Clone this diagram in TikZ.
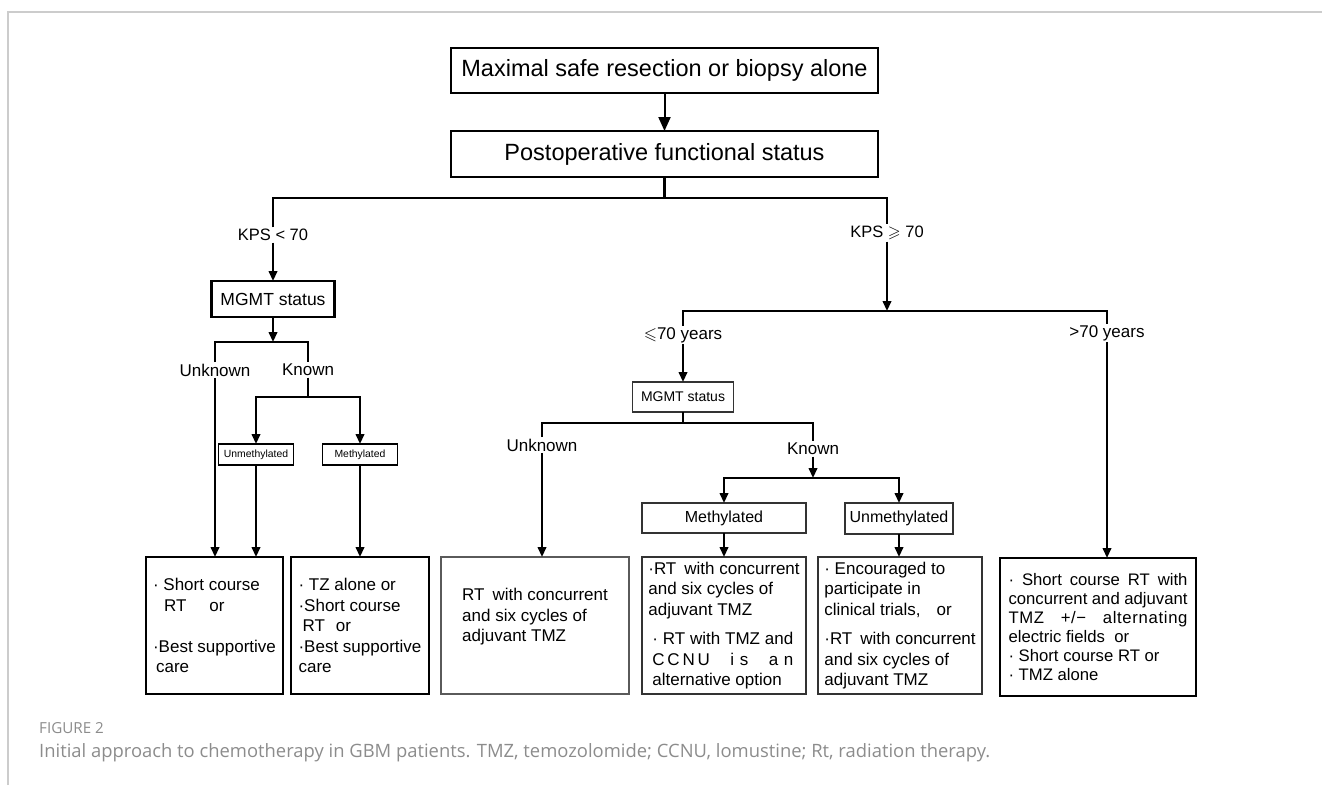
\documentclass[tikz,border=0pt]{standalone}
\usepackage{amssymb}
\usepackage{fontspec}
\setmainfont{Liberation Sans}
\newfontfamily\capfont{Open Sans}
\usetikzlibrary{arrows.meta}
\definecolor{frm}{RGB}{204,204,204}
\definecolor{capc}{RGB}{140,140,140}
\definecolor{dk}{RGB}{51,51,51}
\definecolor{md}{RGB}{90,90,90}
\newcommand{\fsz}[2]{\fontsize{#1}{#2}\selectfont}
\begin{document}
\begin{tikzpicture}[x=1pt,y=-1pt,
  box/.style={draw,inner sep=0,outer sep=0,align=left},
  lbl/.style={inner sep=1.5pt,font=\fsz{17}{20}},
  ln/.style={line width=2.2pt},
  arr/.style={ln,-{Triangle[length=10pt,width=8.5pt]}},
  res/.style={box,minimum height=137,font=\fsz{17}{20.5}}]
\useasboundingbox (0,0) rectangle (1322,785);
\draw[frm,line width=1.5pt] (8,785) -- (8,12) -- (1322,12);
\node[box,line width=2pt,minimum width=427,minimum height=45,font=\fsz{23.5}{28}] (msr) at (664.5,70.5) {Maximal safe resection or biopsy alone};
\node[box,line width=2pt,minimum width=427,minimum height=46,font=\fsz{23.5}{28}] (pfs) at (664.5,154) {Postoperative functional status};
\coordinate (j0) at (664.5,198);
\node[lbl,font=\fsz{16.5}{20}] (kl) at (273,235) {KPS < 70};
\node[lbl,font=\fsz{16.5}{20}] (kr) at (887,233) {KPS $\geqslant$ 70};
\draw[-{Triangle[length=14pt,width=12pt]},line width=2pt] (msr) -- (pfs);
\draw[ln] (pfs) -- (j0) (kl.north) -- (kl.north |- j0) -- (kr.north |- j0) -- (kr.north);
\node[box,line width=2.2pt,minimum width=123,minimum height=36,font=\fsz{17.5}{20}] (mg1) at (273,299) {MGMT status};
\coordinate (j1) at (273,342);
\node[lbl] (uk1) at (215,370) {Unknown};
\node[lbl] (kn1) at (308,370) {Known};
\coordinate (j2) at (308,397);
\node[box,line width=1.8pt,minimum width=75,minimum height=21,font=\fsz{10.4}{12}] (um1) at (256,454.5) {Unmethylated};
\node[box,line width=1.8pt,minimum width=75,minimum height=21,font=\fsz{10.4}{12}] (me1) at (360,454.5) {Methylated};
\node[res,line width=2.5pt,minimum width=137] (ra) at (214.5,625.5) {· Short course\\ \hspace*{11pt}RT\hspace{23pt}or\\[20.5pt] ·Best supportive\\ \hspace*{3pt}care};
\node[res,line width=2.5pt,minimum width=138] (rb) at (360,625.5) {· TZ alone or\\ ·Short course\\ \hspace*{4pt}RT\hspace{11pt}or\\ ·Best supportive\\ care};
\draw[arr] (kl) -- (mg1); \draw[arr] (mg1) -- (j1);
\draw[ln] (uk1.north) -- (uk1.north |- j1) -- (kn1.north |- j1) -- (kn1.north) (kn1.south) -- (j2);
\draw[arr] (j2) -| (um1.north); \draw[arr] (j2) -| (me1.north);
\draw[arr] (uk1.south) -- (uk1.south |- ra.north); \draw[arr] (um1) -- (um1 |- ra.north); \draw[arr] (me1) -- (rb);
\coordinate (j3) at (887,311);
\node[lbl] (ly) at (683,335) {$\leqslant$70 years};
\node[lbl] (go) at (1107,333) {>70 years};
\node[box,line width=1.3pt,draw=dk,minimum width=101,minimum height=30,font=\fsz{14}{16}] (mg2) at (683,397) {MGMT status};
\coordinate (j4) at (683,423);
\node[lbl] (uk2) at (542,445) {Unknown};
\node[lbl] (kn2) at (813,449) {Known};
\coordinate (j5) at (813,478);
\node[box,line width=1.6pt,draw=dk,minimum width=164,minimum height=30,font=\fsz{16}{18}] (me2) at (724,518) {Methylated};
\node[box,line width=1.6pt,draw=dk,minimum width=108,minimum height=31,font=\fsz{16}{18}] (um2) at (899,518.5) {Unmethylated};
\node[res,line width=1.5pt,draw=md,minimum width=188] (rc) at (535,625.5) {RT\hspace{8pt}with concurrent\\ and six cycles of\\ adjuvant TMZ\\ \mbox{}};
\node[res,line width=1.6pt,draw=dk,minimum width=164] (rd) at (724,625.5) {·RT\hspace{8pt}with concurrent\\ and six cycles of\\ adjuvant TMZ\\[9pt] \hspace*{4pt}\makebox[141pt][s]{· RT with TMZ and}\\ \hspace*{4pt}\makebox[141pt][s]{C\,C\,N\,U i\,\,s a\,\,n}\\ \hspace*{4pt}alternative option};
\node[res,line width=1.6pt,draw=dk,minimum width=164] (re) at (900,625.5) {· Encouraged to\\ participate in\\ clinical trials,\hspace{16pt}or\\[9pt] ·RT\hspace{8pt}with concurrent\\ and six cycles of\\ adjuvant TMZ};
\node[res,line width=2.5pt,minimum width=196,minimum height=138,font=\fsz{16.7}{19}] (rf) at (1098,627) {\makebox[179pt][s]{· Short course RT with}\\ \makebox[179pt][s]{concurrent and adjuvant}\\ \makebox[179pt][s]{\addfontfeature{LetterSpace=4}TMZ +/− alternating}\\ electric fields\ \ or\\ · Short course RT or\\ · TMZ alone};
\draw[arr] (kr) -- (j3);
\draw[ln] (ly.north) -- (ly.north |- j3) -- (go.north |- j3) -- (go.north);
\draw[arr] (ly) -- (mg2); \draw[line width=1.3pt] (mg2) -- (j4);
\draw[ln] (uk2.north) -- (uk2.north |- j4) -- (kn2.north |- j4) -- (kn2.north);
\draw[arr] (uk2.south) -- (uk2.south |- rc.north);
\draw[arr] (kn2) -- (j5);
\draw[arr] (j5) -| (me2.north); \draw[arr] (j5) -| (um2.north);
\draw[arr] (me2) -- (rd); \draw[arr] (um2.south) -- (um2.south |- re.north);
\draw[arr] (go.south) -- (go.south |- rf.north);
\node[anchor=west,inner sep=0,text=capc,font=\capfont\fsz{15.2}{18}] (fig) at (39,728) {FIGURE 2};
\node[anchor=west,inner sep=0,text=capc,font=\capfont\fsz{18.4}{22}] (cap) at (39,753) {Initial approach to chemotherapy in GBM patients. TMZ, temozolomide; CCNU, lomustine; Rt, radiation therapy.};
\end{tikzpicture}
\end{document}
